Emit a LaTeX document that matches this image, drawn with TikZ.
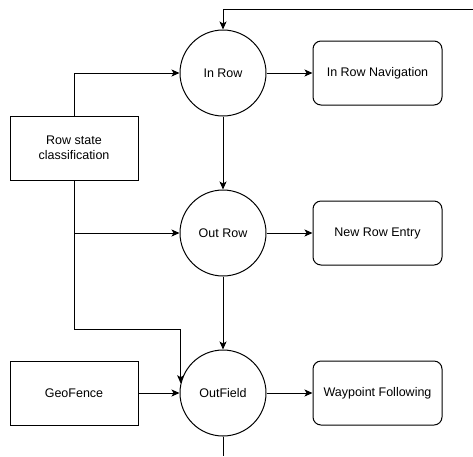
\documentclass[tikz,border=0pt]{standalone}
\usepackage{fontspec}
\setmainfont{Liberation Sans}
\usetikzlibrary{arrows.meta,calc}
\begin{document}
\begin{tikzpicture}[x=1pt,y=-1pt,
  every node/.style={font=\fontsize{12.5}{15}\selectfont},
  state/.style={draw,line width=1pt,circle,minimum size=86pt,inner sep=0pt},
  action/.style={draw,line width=1pt,rounded corners=8pt,minimum width=129pt,minimum height=64pt,inner sep=0pt},
  source/.style={draw,line width=1pt,minimum width=128pt,minimum height=64pt,inner sep=0pt,align=center},
  conn/.style={line width=1pt},
  arr/.style={conn,-{Stealth[length=8pt,width=7pt,inset=2pt]}}]
\useasboundingbox (0,0) rectangle (473,456);
\node[state] (inrow) at (223,73) {In Row};
\node[state] (outrow) at (223,233) {Out Row};
\node[state] (outfield) at (223,393) {OutField};
\node[action] (nav) at (377.5,73) {In Row Navigation};
\node[action] (entry) at (377.5,233) {New Row Entry};
\node[action] (wp) at (377.5,393) {Waypoint Following};
\node[source] (rsc) at (74,148) {Row state\\classification};
\node[source] (geo) at (74,393) {GeoFence};
\coordinate (topR) at (473,9);
\coordinate (bot) at (223,456);
\path (outfield.167) coordinate (oe);
\coordinate (k1) at (oe |- 0,329);
\draw[arr] (topR) -| (inrow.north);
\draw[arr] (rsc.north) |- (inrow.west);
\draw[arr] (rsc.south) |- (outrow.west);
\draw[arr] (rsc.south) |- (k1) -- (oe);
\draw[arr] (inrow) -- (nav);
\draw[arr] (outrow) -- (entry);
\draw[arr] (outfield) -- (wp);
\draw[arr] (inrow) -- (outrow);
\draw[arr] (outrow) -- (outfield);
\draw[arr] (geo) -- (outfield);
\draw[conn] (outfield.south) -- (bot);
\end{tikzpicture}
\end{document}
